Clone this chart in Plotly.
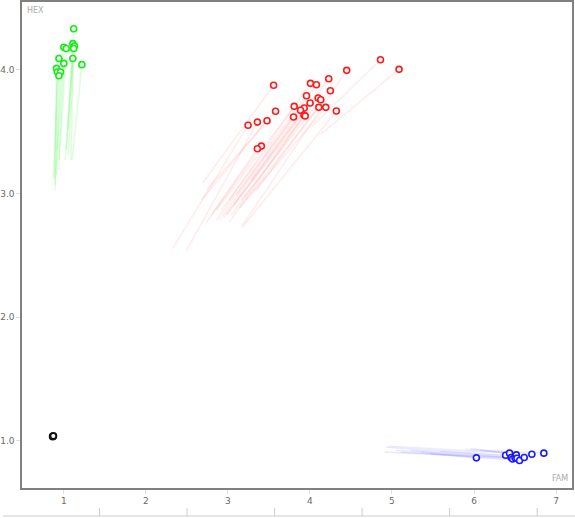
import plotly.graph_objects as go

# ---- data ----
green_x = [1.12, 1.00, 1.03, 1.11, 1.13, 1.12, 0.94, 1.11, 1.00, 1.22, 0.91, 0.92, 0.96, 0.94]
green_y = [4.33, 4.18, 4.17, 4.21, 4.19, 4.17, 4.09, 4.09, 4.05, 4.04, 4.01, 3.98, 3.98, 3.95]
green_tx = [1.053, 0.920, 0.944, 1.029, 1.053, 1.017, 0.871, 1.090, 0.932, 1.102, 0.896, 0.883, 0.908, 0.896]
green_ty = [3.512, 3.350, 3.269, 3.350, 3.310, 3.269, 3.132, 3.269, 3.188, 3.269, 3.027, 3.108, 3.148, 3.067]

red_x = [3.557, 4.860, 5.086, 4.448, 4.229, 4.006, 4.079, 4.249, 3.958, 4.100, 4.132, 4.002, 3.808, 3.930,
         3.885, 4.108, 4.193, 4.322, 3.581, 3.477, 3.359, 3.246, 3.800, 3.926, 3.942, 3.408, 3.359]
red_y = [3.873, 4.080, 4.002, 3.994, 3.926, 3.889, 3.878, 3.829, 3.789, 3.770, 3.757, 3.730, 3.703, 3.690,
         3.671, 3.695, 3.695, 3.665, 3.663, 3.587, 3.576, 3.550, 3.617, 3.633, 3.626, 3.382, 3.361]
red_tx = [2.692, 4.015, 4.136, 3.165, 3.286, 3.019, 3.104, 3.347, 2.922, 3.068, 3.165, 2.983, 2.862, 2.947,
          2.898, 3.141, 3.226, 3.189, 2.740, 2.680, 2.498, 2.328, 2.862, 3.019, 3.044, 2.801, 2.740]
red_ty = [3.083, 3.536, 3.480, 2.728, 3.107, 2.946, 2.986, 3.027, 2.865, 2.905, 2.946, 2.825, 2.865, 2.800,
          2.784, 2.881, 2.946, 2.736, 3.027, 2.946, 2.542, 2.558, 2.784, 2.768, 2.825, 2.825, 2.768]

blue_x = [6.029, 6.385, 6.433, 6.454, 6.470, 6.499, 6.515, 6.523, 6.555, 6.612, 6.705, 6.851]
blue_y = [0.863, 0.884, 0.901, 0.866, 0.854, 0.863, 0.887, 0.860, 0.842, 0.866, 0.892, 0.901]
blue_tx = [5.350, 4.925, 4.961, 4.913, 5.107, 5.228, 5.956, 5.046, 5.471, 5.592, 5.896, 6.078]
blue_ty = [0.909, 0.949, 0.957, 0.909, 0.909, 0.925, 0.941, 0.925, 0.893, 0.917, 0.933, 0.925]

black_x = [0.865, 0.872]
black_y = [1.036, 1.040]

x_ticks = [1, 2, 3, 4, 5, 6, 7]
y_ticks = [1.0, 2.0, 3.0, 4.0]
y_tick_text = ["1.0", "2.0", "3.0", "4.0"]
x_title = "FAM"
y_title = "HEX"

groups = [
    (green_x, green_y, green_tx, green_ty, "#11ee11", "rgba(40,240,40,0.14)"),
    (red_x, red_y, red_tx, red_ty, "#ff1a1a", "rgba(255,40,40,0.09)"),
    (blue_x, blue_y, blue_tx, blue_ty, "#1a1aff", "rgba(60,60,255,0.10)"),
]

fig = go.Figure()

# trails
for xs, ys, txs, tys, col, tcol in groups:
    for x, y, tx, ty in zip(xs, ys, txs, tys):
        fig.add_trace(go.Scatter(x=[tx, x], y=[ty, y], mode="lines",
                                 line=dict(color=tcol, width=1.6),
                                 hoverinfo="skip", showlegend=False))

# points
for xs, ys, txs, tys, col, tcol in groups:
    fig.add_trace(go.Scatter(x=xs, y=ys, mode="markers",
                             marker=dict(symbol="circle", size=6, color="white",
                                         line=dict(color=col, width=1.6)),
                             showlegend=False))
fig.add_trace(go.Scatter(x=black_x, y=black_y, mode="markers",
                         marker=dict(symbol="circle", size=6, color="white",
                                     line=dict(color="#111111", width=2)),
                         showlegend=False))

axis_font = dict(family="DejaVu Sans", size=9, color="#6a6a6a")

fig.update_layout(
    width=575, height=518,
    margin=dict(l=0, r=0, t=0, b=0),
    paper_bgcolor="white", plot_bgcolor="white",
    showlegend=False,
    xaxis=dict(domain=[0.0339, 0.9953], range=[0.495, 7.198],
               tickvals=x_ticks, ticktext=[str(v) for v in x_ticks],
               ticks="outside", ticklen=4, tickcolor="#dddddd", tickwidth=1,
               showline=True, linecolor="#808080", linewidth=2, mirror=True,
               showgrid=False, zeroline=False, tickfont=axis_font),
    yaxis=dict(domain=[0.0585, 0.9961], range=[0.622, 4.546],
               tickvals=y_ticks, ticktext=y_tick_text,
               ticks="outside", ticklen=4, tickcolor="#dddddd", tickwidth=1,
               showline=True, linecolor="#808080", linewidth=2, mirror=True,
               showgrid=False, zeroline=False, tickfont=axis_font),
    annotations=[
        dict(text=y_title, xref="x domain", yref="y domain", x=0.004, y=0.995,
             xanchor="left", yanchor="top", showarrow=False,
             font=dict(family="DejaVu Sans", size=8, color="#aaaaaa")),
        dict(text=x_title, xref="x domain", yref="y domain", x=0.996, y=0.005,
             xanchor="right", yanchor="bottom", showarrow=False,
             font=dict(family="DejaVu Sans", size=8, color="#aaaaaa")),
    ],
)

# decorative slider strip below the chart
strip_y = 2 / 518
tick_top = 10 / 518
shapes = [dict(type="line", xref="paper", yref="paper", x0=0, x1=1, y0=strip_y, y1=strip_y,
               line=dict(color="#cccccc", width=1))]
for px in [97, 185, 273, 361, 449, 537]:
    shapes.append(dict(type="line", xref="paper", yref="paper", x0=px / 575, x1=px / 575,
                       y0=strip_y, y1=tick_top, line=dict(color="#cccccc", width=1)))
fig.update_layout(shapes=shapes)

fig.write_html("out.html",
               config={"displayModeBar": False},
               post_script="document.body.style.margin='0';document.body.style.overflow='hidden';")
